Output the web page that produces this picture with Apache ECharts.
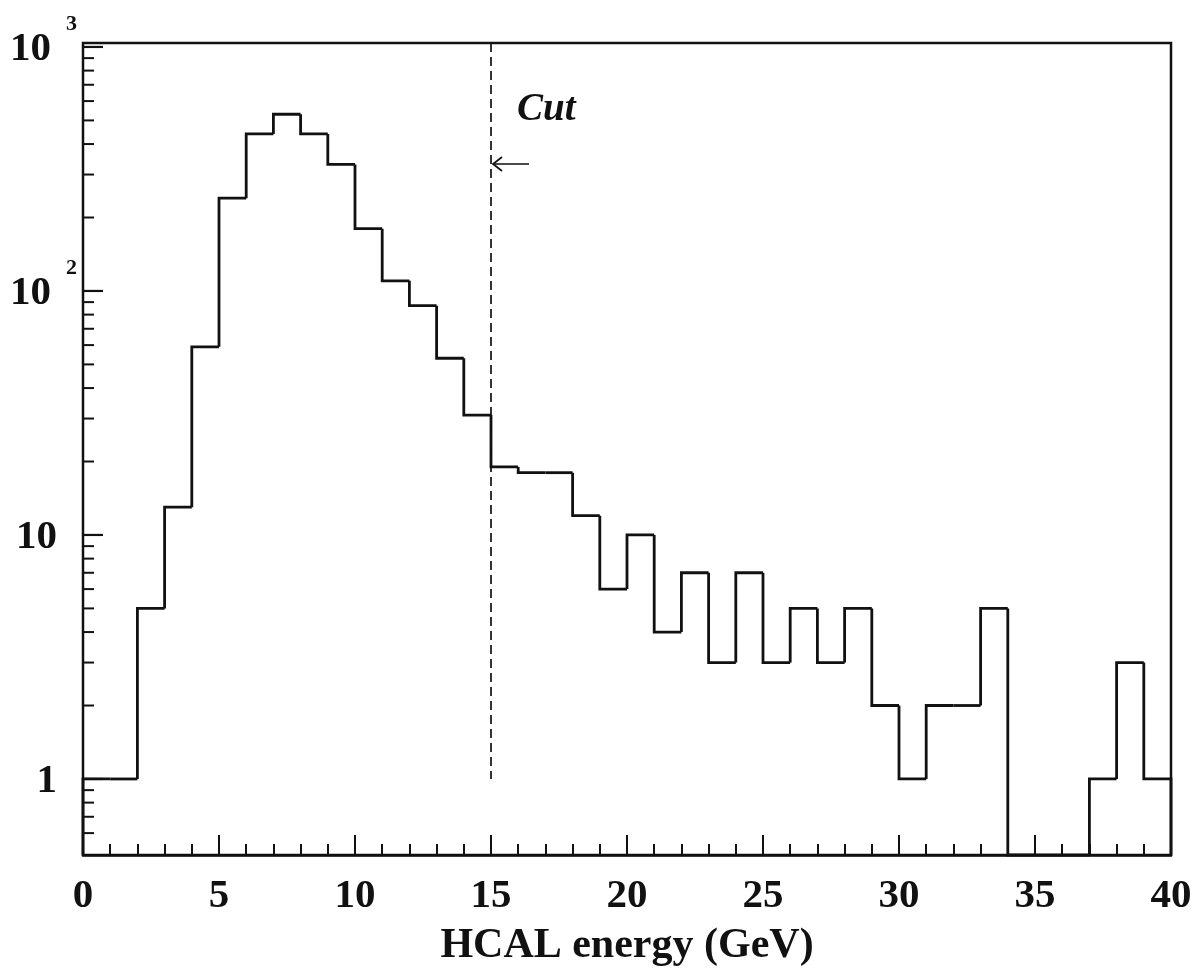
<!DOCTYPE html>
<html>
<head>
<meta charset="utf-8">
<title>HCAL energy</title>
<script src="https://cdn.jsdelivr.net/npm/echarts@6/dist/echarts.min.js"></script>
<style>
  html, body { margin: 0; padding: 0; background: #ffffff; }
  #chart { width: 1202px; height: 978px; }
</style>
</head>
<body>
<div id="chart"></div>
<script>
// Histogram bins: 1 GeV wide, 0..40 GeV
const binEdges = [0,1,2,3,4,5,6,7,8,9,10,11,12,13,14,15,16,17,18,19,20,
                  21,22,23,24,25,26,27,28,29,30,31,32,33,34,35,36,37,38,39,40];
const binCounts = [1,1,5,13,59,240,440,530,440,330,180,110,87,53,31,19,18,18,12,6,
                   10,4,7,3,7,3,5,3,5,2,1,2,2,5,0,0,0,1,3,1];

// Axis ranges and ticks
const xRange = [0, 40];
const xTickLabels = ['0','5','10','15','20','25','30','35','40'];
const yRange = [0.488, 1038];
const yMajorTicks = [1, 10, 100, 1000];
const yLabelBase = ['1', '10', '10', '10'];
const yLabelExp = ['', '', '2', '3'];
const yMinorTicks = [0.6,0.7,0.8,0.9,
                     2,3,4,5,6,7,8,9,
                     20,30,40,50,60,70,80,90,
                     200,300,400,500,600,700,800,900];

// Selection cut
const cutEnergy = 15;
const cutLineRange = [1, 1038];
const cutText = 'Cut';
const xTitle = 'HCAL energy (GeV)';

const FONT = '"Liberation Serif", "Times New Roman", serif';
const INK = '#111111';

const chart = echarts.init(document.getElementById('chart'), null, { renderer: 'canvas' });

const histData = binCounts.map((c, i) => [binEdges[i], binEdges[i + 1], c, i > 0 ? binCounts[i - 1] : 0]);

// Step outline of one bin: rise/fall at the left edge, flat top across the bin
function histRender(params, api) {
  const lo = api.value(0), hi = api.value(1), v = api.value(2), prev = api.value(3);
  const yOf = (val) => api.coord([lo, val > 0 ? val : yRange[0]])[1];
  const xLo = api.coord([lo, 1])[0];
  const xHi = api.coord([hi, 1])[0];
  const pts = [[xLo, yOf(prev)], [xLo, yOf(v)], [xHi, yOf(v)]];
  if (params.dataIndex === binCounts.length - 1) pts.push([xHi, yOf(0)]);
  return {
    type: 'polyline',
    shape: { points: pts },
    style: { stroke: INK, lineWidth: 2.8, fill: null, lineJoin: 'miter' }
  };
}

// Decade ticks with labels (10^n drawn with a raised exponent)
function yMajorRender(params, api) {
  const i = params.dataIndex;
  const p = api.coord([xRange[0], yMajorTicks[i]]);
  const children = [{
    type: 'line',
    shape: { x1: p[0], y1: p[1], x2: p[0] + 20, y2: p[1] },
    style: { stroke: INK, lineWidth: 2.2 }
  }];
  if (yLabelExp[i]) {
    children.push({
      type: 'text',
      style: { text: yLabelBase[i], x: p[0] - 32, y: p[1] + 2, align: 'right', verticalAlign: 'middle',
               font: 'bold 41px ' + FONT, fill: INK }
    });
    children.push({
      type: 'text',
      style: { text: yLabelExp[i], x: p[0] - 17, y: p[1] - 23, align: 'left', verticalAlign: 'middle',
               font: 'bold 22px ' + FONT, fill: INK }
    });
  } else {
    children.push({
      type: 'text',
      style: { text: yLabelBase[i], x: p[0] - 26, y: p[1] + 2, align: 'right', verticalAlign: 'middle',
               font: 'bold 41px ' + FONT, fill: INK }
    });
  }
  return { type: 'group', children: children };
}

function yMinorRender(params, api) {
  const p = api.coord([xRange[0], yMinorTicks[params.dataIndex]]);
  return {
    type: 'line',
    shape: { x1: p[0], y1: p[1], x2: p[0] + 11, y2: p[1] },
    style: { stroke: INK, lineWidth: 2 }
  };
}

// Dashed cut line with its arrow and label
function cutRender(params, api) {
  const top = api.coord([cutEnergy, cutLineRange[1]]);
  const bot = api.coord([cutEnergy, cutLineRange[0]]);
  const x = top[0];
  const arrowY = top[1] + 121;
  return {
    type: 'group',
    children: [
      { type: 'line', shape: { x1: x, y1: top[1], x2: x, y2: bot[1] },
        style: { stroke: INK, lineWidth: 1.7, lineDash: [9, 5] } },
      { type: 'line', shape: { x1: x + 2, y1: arrowY, x2: x + 38, y2: arrowY },
        style: { stroke: INK, lineWidth: 1.7 } },
      { type: 'polyline', shape: { points: [[x + 11, arrowY - 7], [x + 2, arrowY], [x + 11, arrowY + 7]] },
        style: { stroke: INK, lineWidth: 1.7, fill: null } },
      { type: 'text', style: { text: cutText, x: x + 26, y: top[1] + 67, align: 'left', verticalAlign: 'middle',
        font: 'italic bold 39px ' + FONT, fill: INK } }
    ]
  };
}

chart.setOption({
  animation: false,
  backgroundColor: '#ffffff',
  grid: {
    left: 83, right: 31, top: 43, bottom: 123,
    show: true, borderColor: INK, borderWidth: 2.5, backgroundColor: 'transparent'
  },
  xAxis: {
    type: 'value',
    min: xRange[0], max: xRange[1], interval: 5,
    axisLine: { show: true, lineStyle: { color: INK, width: 2.5 } },
    axisTick: { show: true, inside: true, length: 20, lineStyle: { color: INK, width: 2 } },
    minorTick: { show: true, splitNumber: 5, length: 11, lineStyle: { color: INK, width: 2 } },
    splitLine: { show: false },
    axisLabel: {
      margin: 21, color: INK, fontFamily: FONT, fontWeight: 'bold', fontSize: 41,
      formatter: (v) => xTickLabels[Math.round(v / 5)]
    },
    name: xTitle, nameLocation: 'middle', nameGap: 70,
    nameTextStyle: { color: INK, fontFamily: FONT, fontWeight: 'bold', fontSize: 42 }
  },
  yAxis: {
    type: 'log', logBase: 10,
    min: yRange[0], max: yRange[1],
    axisLine: { show: false },
    axisTick: { show: false },
    axisLabel: { show: false },
    splitLine: { show: false }
  },
  series: [
    { type: 'custom', name: 'counts', renderItem: histRender, data: histData,
      encode: { x: [0, 1], y: 2 }, clip: false, z: 3 },
    { type: 'custom', name: 'yMajor', renderItem: yMajorRender,
      data: yMajorTicks.map(v => [xRange[0], v]), clip: false, silent: true, z: 4 },
    { type: 'custom', name: 'yMinor', renderItem: yMinorRender,
      data: yMinorTicks.map(v => [xRange[0], v]), clip: false, silent: true, z: 4 },
    { type: 'custom', name: 'cut', renderItem: cutRender,
      data: [[cutEnergy, cutLineRange[0]]], clip: false, silent: true, z: 5 }
  ]
});
</script>
</body>
</html>
